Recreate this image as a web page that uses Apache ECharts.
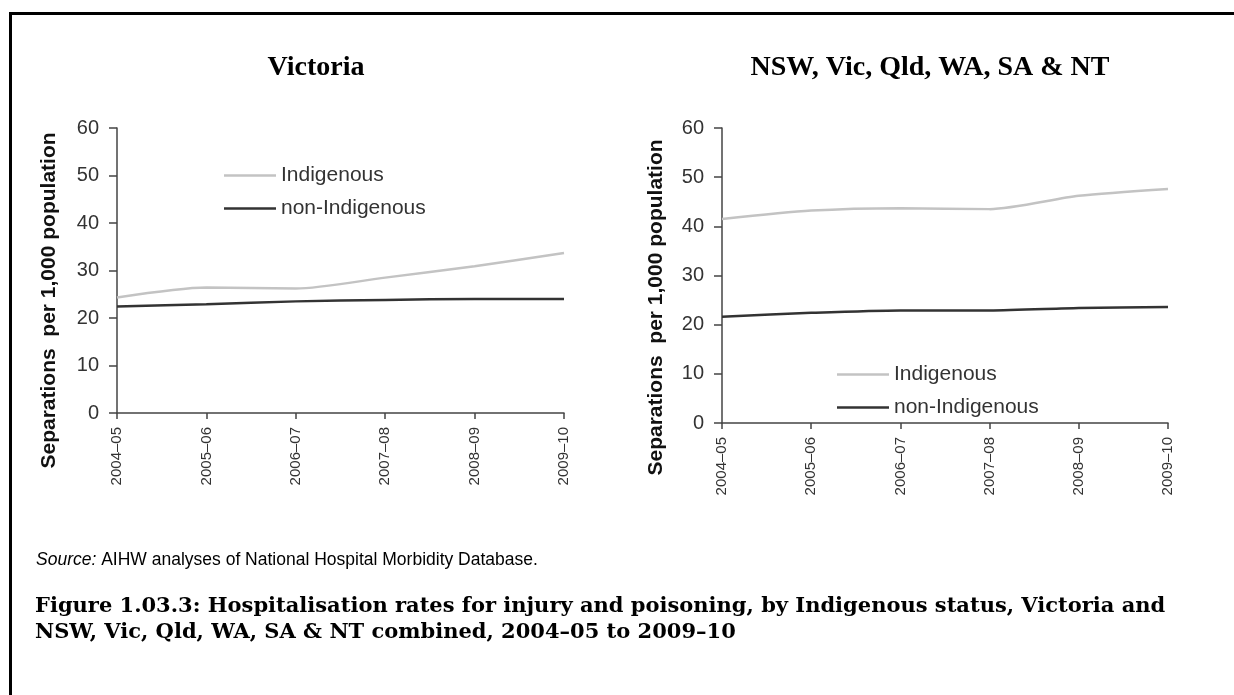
<!DOCTYPE html>
<html>
<head>
<meta charset="utf-8">
<title>Hospitalisation rates for injury and poisoning</title>
<script src="https://cdn.jsdelivr.net/npm/echarts@6/dist/echarts.min.js"></script>
<style>
  html, body { margin: 0; padding: 0; background: #fff; }
  #chart { width: 1234px; height: 695px; }
</style>
</head>
<body>
<div id="chart"></div>
<script>
// periods on the x axis
const categories = ['2004–05', '2005–06', '2006–07', '2007–08', '2008–09', '2009–10']
const yTicks = [0, 10, 20, 30, 40, 50, 60]

// Victoria, separations per 1,000 population
const vicIndigenous = [24.3, 26.4, 26.2, 28.5, 30.9, 33.7]
const vicNonIndigenous = [22.4, 22.9, 23.5, 23.8, 24.0, 24.0]

// NSW, Vic, Qld, WA, SA & NT combined
const combIndigenous = [41.5, 43.2, 43.7, 43.5, 46.2, 47.6]
const combNonIndigenous = [21.6, 22.4, 22.9, 22.9, 23.4, 23.6]

const axisColor = '#444'
const textColor = '#333'
const sans = 'Arial, "Liberation Sans", sans-serif'
const titleSerif = '"Liberation Serif", serif'
const captionSerif = '"DejaVu Serif", serif'

const makeX = (gridIndex) => ({
  type: 'category',
  gridIndex,
  data: categories,
  boundaryGap: false,
  axisLine: { lineStyle: { color: axisColor, width: 1.5 } },
  axisTick: { alignWithLabel: true, length: 6, lineStyle: { color: axisColor, width: 1.5 } },
  axisLabel: { rotate: 90, margin: 14, fontSize: 15, fontFamily: sans, color: textColor, interval: 0 }
})

const makeY = (gridIndex, nameGap, shift) => ({
  type: 'value',
  gridIndex,
  min: yTicks[0],
  max: yTicks[yTicks.length - 1],
  interval: yTicks[1] - yTicks[0],
  name: 'Separations  per 1,000 population',
  nameLocation: 'middle',
  nameGap,
  nameTextStyle: {
    fontSize: 21, fontWeight: 'bold', fontFamily: sans, color: '#111',
    padding: [0, shift, 0, 0]
  },
  splitLine: { show: false },
  axisLine: { show: true, lineStyle: { color: axisColor, width: 1.5 } },
  axisTick: { show: true, length: 8, lineStyle: { color: axisColor, width: 1.5 } },
  axisLabel: { margin: 18, fontSize: 20, fontFamily: sans, color: textColor }
})

const makeLine = (name, data, idx, color) => ({
  name,
  type: 'line',
  xAxisIndex: idx,
  yAxisIndex: idx,
  data,
  smooth: 0.25,
  symbol: 'none',
  lineStyle: { color, width: 2.5 },
  itemStyle: { color }
})

const makeLegend = (left, top) => ({
  left, top,
  orient: 'vertical',
  icon: 'rect',
  itemWidth: 52,
  itemHeight: 2.5,
  itemGap: 12,
  selectedMode: false,
  data: ['Indigenous', 'non-Indigenous'],
  textStyle: { fontSize: 21, fontFamily: sans, color: textColor }
})

const chart = echarts.init(document.getElementById('chart'))

chart.setOption({
  backgroundColor: '#fff',
  animation: false,
  title: [
    {
      text: 'Victoria', left: 311, top: 49, textAlign: 'center',
      textStyle: { fontFamily: titleSerif, fontWeight: 'bold', fontSize: 28, color: '#000' }
    },
    {
      text: 'NSW, Vic, Qld, WA, SA & NT', left: 925, top: 49, textAlign: 'center',
      textStyle: { fontFamily: titleSerif, fontWeight: 'bold', fontSize: 28, color: '#000' }
    },
    {
      text: '{i|Source:} AIHW analyses of National Hospital Morbidity Database.',
      left: 31, top: 546,
      textStyle: {
        fontFamily: sans, fontSize: 17.5, fontWeight: 'normal', color: '#000',
        rich: { i: { fontFamily: sans, fontSize: 17.5, fontStyle: 'italic', color: '#000' } }
      }
    },
    {
      text: 'Figure 1.03.3: Hospitalisation rates for injury and poisoning, by Indigenous status, Victoria and\nNSW, Vic, Qld, WA, SA & NT combined, 2004–05 to 2009–10',
      left: 30, top: 589,
      textStyle: { fontFamily: captionSerif, fontWeight: 'bold', fontSize: 21, lineHeight: 26, color: '#000' }
    }
  ],
  graphic: [
    {
      type: 'rect',
      shape: { x: 10.5, y: 13.5, width: 1400, height: 900 },
      style: { fill: 'none', stroke: '#000', lineWidth: 3 },
      silent: true
    }
  ],
  legend: [makeLegend(219, 160), makeLegend(832, 359)],
  grid: [
    { left: 117, top: 128, width: 447, height: 285 },
    { left: 722, top: 128, width: 446, height: 295 }
  ],
  xAxis: [makeX(0), makeX(1)],
  yAxis: [makeY(0, 57, 60), makeY(1, 55, 64)],
  series: [
    makeLine('Indigenous', vicIndigenous, 0, '#c3c3c3'),
    makeLine('non-Indigenous', vicNonIndigenous, 0, '#333333'),
    makeLine('Indigenous', combIndigenous, 1, '#c3c3c3'),
    makeLine('non-Indigenous', combNonIndigenous, 1, '#333333')
  ]
})
</script>
</body>
</html>
